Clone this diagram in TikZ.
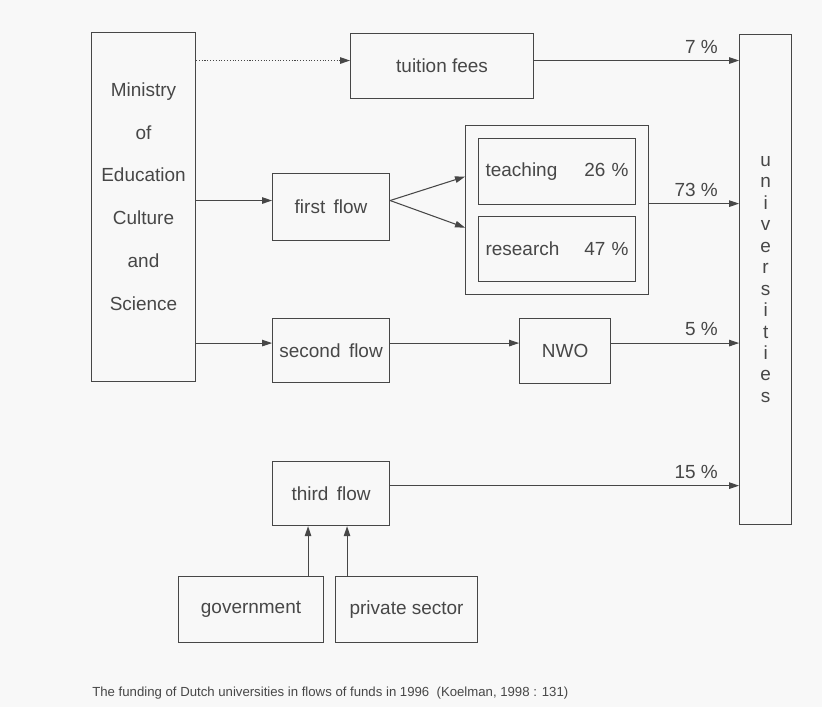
\documentclass[tikz,border=0pt]{standalone}
\usepackage{fontspec}
\setmainfont{Liberation Sans}
\usepackage{tikz}
\usetikzlibrary{arrows.meta, positioning, fit}
\definecolor{ink}{gray}{0.28}
\definecolor{paper}{gray}{0.972}
\tikzset{
  block/.style={
    rectangle, draw=ink, line width=0.6pt,
    text=ink, align=center, inner sep=2pt,
    font=\fontsize{10.8}{13}\selectfont
  },
  line/.style={draw=ink, line width=0.6pt, -{Triangle[length=2mm, width=1.3mm]}},
  dotted line/.style={line, densely dotted},
  pct/.style={text=ink, inner sep=1pt, font=\fontsize{10.8}{13}\selectfont},
  caption/.style={text=ink, inner sep=0pt, font=\fontsize{7.5}{9}\selectfont},
}
\begin{document}
\begin{tikzpicture}
  \fill[paper] (0,0) rectangle (16.44,-14.14);
  \useasboundingbox (0,0) rectangle (16.44,-14.14);

  \node[block, anchor=north west, minimum width=2.08cm, minimum height=6.98cm,
    text depth=0.42cm, font=\fontsize{10.8}{24.4}\selectfont]
    (ministry) at (1.82,-0.64) {Ministry\\of\\Education\\Culture\\and\\Science};

  \node[block, minimum width=3.66cm, minimum height=1.30cm,
    below right=0.02cm and 3.08cm of ministry.north east]
    (tuition) {tuition fees};
  \node[block, minimum width=1.04cm, minimum height=9.80cm,
    font=\fontsize{10.8}{12.2}\selectfont,
    below right=0.02cm and 4.10cm of tuition.north east]
    (univ) {u\\n\\i\\v\\e\\r\\s\\i\\t\\i\\e\\s};

  \node[block, minimum width=2.34cm, minimum height=1.34cm, right=1.52cm of ministry]
    (firstflow) {first\, flow};
  \node[block, align=left, text width=2.86cm, minimum width=3.14cm, minimum height=1.32cm,
    below right=0.78cm and 2.56cm of tuition.south west]
    (teaching) {teaching\hfill 26 \%};
  \node[block, align=left, text width=2.86cm, minimum width=3.14cm, minimum height=1.30cm,
    below=0.22cm of teaching]
    (research) {research\hfill 47 \%};
  \node[block, fit=(teaching)(research), inner sep=0.25cm] (outer) {};

  \node[block, minimum width=2.34cm, minimum height=1.28cm, below=1.54cm of firstflow]
    (secondflow) {second\, flow};
  \node[block, minimum width=1.82cm, minimum height=1.30cm, right=2.58cm of secondflow]
    (nwo) {NWO};
  \node[block, minimum width=2.34cm, minimum height=1.28cm, below=1.56cm of secondflow]
    (thirdflow) {third\, flow};

  \node[block, minimum width=2.90cm, minimum height=1.32cm,
    below right=3.88cm and 1.74cm of ministry.south west]
    (government) {government};
  \node[block, minimum width=2.84cm, minimum height=1.32cm, right=0.22cm of government]
    (private) {private sector};

  \node[caption, below right=6.1cm and 0.02cm of ministry.south west]
    (source) {The funding of Dutch universities in flows of funds in 1996\ \ (Koelman, 1998 : 131)};

  % flows of funds
  \draw[dotted line] ([yshift=1.1mm]ministry.east |- tuition.west) -- ([yshift=1.1mm]tuition.west);
  \draw[line] ([yshift=1.1mm]tuition.east) -- ([yshift=1.1mm]tuition.east -| univ.west)
    node[pct, pos=1, above left=0.1cm and 0.38cm] {7 \%};

  \draw[line] ([yshift=1.3mm]ministry.east |- firstflow.west) -- ([yshift=1.3mm]firstflow.west);
  \draw[line] ([yshift=1.3mm]firstflow.east) -- ([yshift=6.7mm]outer.west);
  \draw[line] ([yshift=1.3mm]firstflow.east) -- ([yshift=-3.5mm]outer.west);
  \draw[line] ([yshift=1.3mm]outer.east) -- ([yshift=1.3mm]outer.east -| univ.west)
    node[pct, pos=1, above left=0.1cm and 0.38cm] {73 \%};

  \draw[line] ([yshift=1.5mm]ministry.east |- secondflow.west) -- ([yshift=1.5mm]secondflow.west);
  \draw[line] ([yshift=1.5mm]secondflow.east) -- ([yshift=1.5mm]nwo.west);
  \draw[line] ([yshift=1.5mm]nwo.east) -- ([yshift=1.5mm]nwo.east -| univ.west)
    node[pct, pos=1, above left=0.1cm and 0.38cm] {5 \%};

  \draw[line] ([yshift=1.6mm]thirdflow.east) -- ([yshift=1.6mm]thirdflow.east -| univ.west)
    node[pct, pos=1, above left=0.1cm and 0.38cm] {15 \%};
  \draw[line] ([xshift=-3.2mm]government.north east) -- ([xshift=-3.2mm]government.north east |- thirdflow.south);
  \draw[line] ([xshift=2.4mm]private.north west) -- ([xshift=2.4mm]private.north west |- thirdflow.south);
\end{tikzpicture}
\end{document}
